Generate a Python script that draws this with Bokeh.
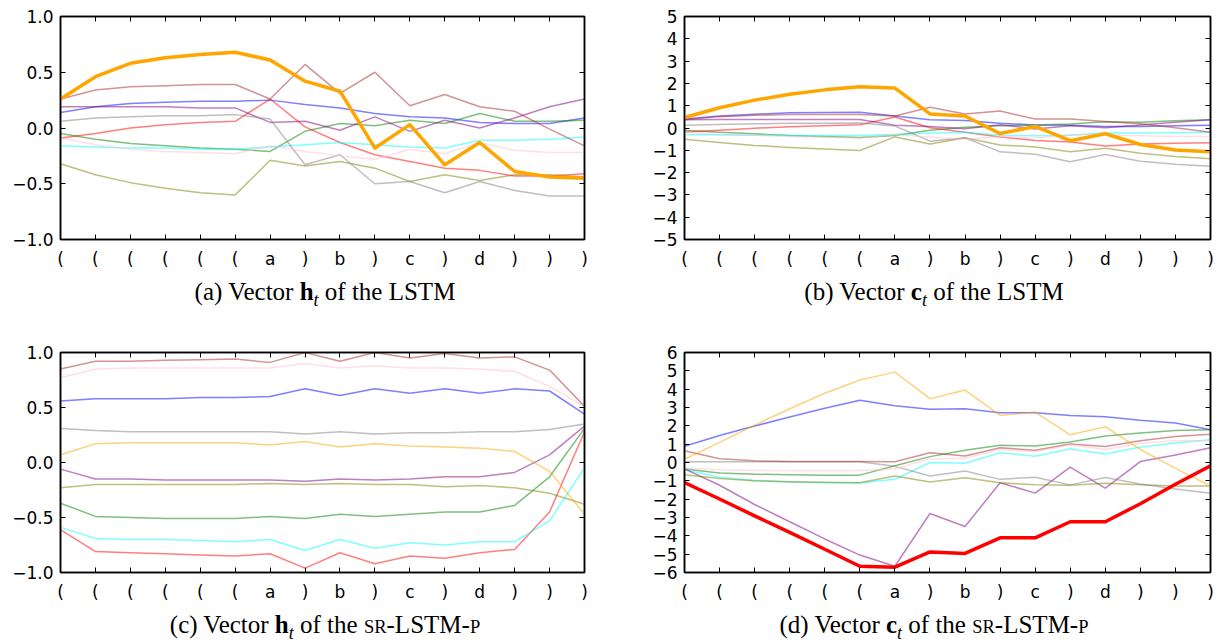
from bokeh.plotting import figure
from bokeh.models import FixedTicker, LinearAxis, Range1d, Div, CustomLabelingPolicy
from bokeh.layouts import column, row
from bokeh.embed import file_html
from bokeh.resources import INLINE

# ---------------- data ----------------
tokens = ["(", "(", "(", "(", "(", "(", "a", ")", "b", ")", "c", ")", "d", ")", ")", ")"]

# (a) vector h_t of the LSTM
orange_a = [0.26, 0.46, 0.58, 0.63, 0.66, 0.68, 0.61, 0.42, 0.33, -0.18, 0.03, -0.33, -0.13, -0.39, -0.44, -0.45]
brown_a = [0.26, 0.34, 0.37, 0.38, 0.39, 0.39, 0.26, 0.57, 0.31, 0.50, 0.20, 0.30, 0.19, 0.15, -0.01, -0.16]
blue_a = [0.14, 0.19, 0.22, 0.23, 0.24, 0.24, 0.25, 0.21, 0.18, 0.13, 0.10, 0.09, 0.05, 0.04, 0.04, 0.09]
purple_a = [0.19, 0.19, 0.19, 0.19, 0.18, 0.18, 0.05, 0.06, -0.02, 0.10, -0.03, 0.07, 0.00, 0.09, 0.19, 0.26]
gray_a = [0.06, 0.09, 0.10, 0.11, 0.11, 0.12, 0.08, -0.33, -0.24, -0.50, -0.48, -0.58, -0.48, -0.56, -0.61, -0.61]
red_a = [-0.09, -0.05, 0.00, 0.03, 0.05, 0.06, 0.26, 0.01, -0.13, -0.24, -0.30, -0.36, -0.38, -0.43, -0.43, -0.41]
green_a = [-0.05, -0.10, -0.14, -0.16, -0.18, -0.19, -0.21, -0.03, 0.04, 0.02, 0.07, 0.04, 0.13, 0.06, 0.06, 0.07]
cyan_a = [-0.16, -0.17, -0.18, -0.18, -0.19, -0.19, -0.17, -0.15, -0.13, -0.15, -0.17, -0.18, -0.11, -0.11, -0.10, -0.08]
pink_a = [-0.09, -0.15, -0.19, -0.21, -0.22, -0.23, -0.16, -0.21, -0.25, -0.28, -0.19, -0.23, -0.13, -0.20, -0.22, -0.22]
olive_a = [-0.32, -0.42, -0.49, -0.54, -0.58, -0.60, -0.29, -0.34, -0.30, -0.36, -0.48, -0.42, -0.47, -0.42, -0.42, -0.44]

# (b) vector c_t of the LSTM
orange_b = [0.47, 0.91, 1.25, 1.51, 1.71, 1.85, 1.79, 0.63, 0.54, -0.25, 0.07, -0.57, -0.26, -0.74, -0.99, -1.07]
blue_b = [0.40, 0.54, 0.62, 0.68, 0.69, 0.71, 0.54, 0.37, 0.34, 0.21, 0.13, 0.12, 0.07, 0.07, 0.10, 0.12]
brown_b = [0.37, 0.51, 0.57, 0.60, 0.60, 0.60, 0.54, 0.93, 0.63, 0.76, 0.40, 0.40, 0.29, 0.19, 0.01, -0.19]
purple_b = [0.37, 0.38, 0.38, 0.38, 0.38, 0.38, 0.12, 0.07, -0.03, 0.15, -0.04, 0.10, 0.01, 0.13, 0.26, 0.37]
gray_b = [0.12, 0.16, 0.19, 0.21, 0.21, 0.22, 0.09, -0.59, -0.44, -1.07, -1.18, -1.51, -1.19, -1.49, -1.63, -1.71]
red_b = [-0.18, -0.10, -0.01, 0.06, 0.10, 0.15, 0.49, 0.01, -0.19, -0.40, -0.56, -0.63, -0.81, -0.72, -0.68, -0.66]
green_b = [-0.10, -0.19, -0.26, -0.34, -0.38, -0.43, -0.34, -0.10, 0.03, 0.10, 0.13, 0.18, 0.28, 0.26, 0.32, 0.37]
cyan_b = [-0.29, -0.31, -0.32, -0.34, -0.34, -0.34, -0.29, -0.22, -0.19, -0.32, -0.35, -0.32, -0.21, -0.22, -0.21, -0.19]
pink_b = [-0.20, -0.28, -0.33, -0.38, -0.42, -0.45, -0.30, -0.40, -0.50, -0.38, -0.45, -0.30, -0.30, -0.35, -0.38, -0.38]
olive_b = [-0.50, -0.65, -0.78, -0.87, -0.94, -1.01, -0.40, -0.72, -0.44, -0.76, -0.85, -1.06, -0.91, -1.13, -1.28, -1.38]

# (c) vector h_t of the SR-LSTM-P
brown_c = [0.85, 0.92, 0.92, 0.93, 0.935, 0.94, 0.91, 1.0, 0.92, 1.0, 0.95, 0.99, 0.95, 0.96, 0.84, 0.51]
pink_c = [0.77, 0.85, 0.86, 0.86, 0.86, 0.86, 0.86, 0.90, 0.86, 0.88, 0.86, 0.86, 0.85, 0.83, 0.69, 0.51]
blue_c = [0.56, 0.58, 0.58, 0.58, 0.59, 0.59, 0.60, 0.67, 0.61, 0.67, 0.63, 0.67, 0.63, 0.67, 0.65, 0.44]
gray_c = [0.31, 0.29, 0.28, 0.28, 0.28, 0.28, 0.28, 0.26, 0.28, 0.26, 0.27, 0.27, 0.28, 0.28, 0.30, 0.35]
orange_c = [0.07, 0.17, 0.18, 0.18, 0.18, 0.18, 0.16, 0.19, 0.14, 0.17, 0.15, 0.14, 0.13, 0.10, -0.08, -0.47]
purple_c = [-0.06, -0.15, -0.15, -0.16, -0.16, -0.16, -0.16, -0.17, -0.15, -0.16, -0.15, -0.13, -0.13, -0.09, 0.07, 0.33]
olive_c = [-0.23, -0.20, -0.20, -0.20, -0.20, -0.20, -0.19, -0.20, -0.19, -0.20, -0.20, -0.22, -0.21, -0.23, -0.28, -0.38]
green_c = [-0.37, -0.49, -0.50, -0.51, -0.51, -0.51, -0.49, -0.51, -0.47, -0.49, -0.47, -0.45, -0.45, -0.39, -0.13, 0.31]
cyan_c = [-0.59, -0.69, -0.70, -0.70, -0.71, -0.72, -0.70, -0.80, -0.70, -0.78, -0.73, -0.75, -0.72, -0.72, -0.53, -0.05]
red_c = [-0.61, -0.81, -0.82, -0.83, -0.84, -0.85, -0.83, -0.96, -0.82, -0.92, -0.85, -0.87, -0.82, -0.79, -0.45, 0.28]

# (d) vector c_t of the SR-LSTM-P
orange_d = [0.18, 1.10, 2.04, 2.93, 3.78, 4.50, 4.93, 3.48, 3.95, 2.57, 2.75, 1.51, 1.95, 0.71, -0.32, -1.28]
blue_d = [0.89, 1.47, 1.99, 2.48, 2.96, 3.40, 3.10, 2.91, 2.93, 2.71, 2.71, 2.57, 2.50, 2.30, 2.15, 1.79]
green_d = [-0.35, -0.57, -0.64, -0.67, -0.69, -0.69, -0.18, 0.32, 0.67, 0.94, 0.90, 1.12, 1.44, 1.61, 1.74, 1.79]
brown_d = [0.64, 0.21, 0.09, 0.05, 0.05, 0.05, 0.04, 0.53, 0.35, 0.80, 0.67, 1.01, 0.87, 1.19, 1.42, 1.54]
pink_d = [-0.30, -0.40, -0.43, -0.43, -0.43, -0.43, -0.35, 0.20, 0.23, 0.71, 0.58, 0.97, 0.71, 1.05, 1.18, 1.18]
cyan_d = [-0.39, -0.80, -0.98, -1.06, -1.10, -1.12, -0.92, 0.00, -0.04, 0.53, 0.34, 0.74, 0.46, 0.85, 1.06, 1.24]
gray_d = [0.04, 0.04, 0.04, 0.04, 0.04, 0.04, -0.21, -0.74, -0.46, -0.92, -0.80, -1.22, -0.82, -1.17, -1.45, -1.68]
olive_d = [-0.67, -0.87, -0.99, -1.05, -1.08, -1.10, -0.74, -1.06, -0.83, -1.10, -1.22, -1.24, -1.13, -1.21, -1.28, -1.28]
purple_d = [-0.35, -1.24, -2.29, -3.23, -4.17, -5.05, -5.66, -2.78, -3.49, -1.10, -1.67, -0.25, -1.40, 0.05, 0.41, 0.80]
red_d = [-1.10, -1.99, -2.91, -3.81, -4.73, -5.66, -5.71, -4.88, -4.96, -4.11, -4.11, -3.23, -3.23, -2.25, -1.19, -0.18]

yticks_h = [-1.0, -0.5, 0.0, 0.5, 1.0]
yticks_c_lstm = [-5, -4, -3, -2, -1, 0, 1, 2, 3, 4, 5]
yticks_c_sr = [-6, -5, -4, -3, -2, -1, 0, 1, 2, 3, 4, 5, 6]

SC = "<span style='font-size:74%'>"
SUB_T = "<sub style='line-height:0;font-size:72%'><i>t</i></sub>"
caption_a = "(a) Vector <b>h</b>" + SUB_T + " of the LSTM"
caption_b = "(b) Vector <b>c</b>" + SUB_T + " of the LSTM"
caption_c = "(c) Vector <b>h</b>" + SUB_T + " of the " + SC + "SR</span>-LSTM-" + SC + "P</span>"
caption_d = "(d) Vector <b>c</b>" + SUB_T + " of the " + SC + "SR</span>-LSTM-" + SC + "P</span>"

# ---------------- helpers ----------------
x_idx = list(range(len(tokens)))
THIN, THICK = 1.5, 3.5
NO_LABELS = "for (const i of Array.from(indices)) indices.unset(i); return indices"


def fmt_num(v, decimals):
    s = f"{abs(v):.{decimals}f}"
    return ("\u2212" + s) if v < 0 else s


def style_axis(ax, ticks, overrides, labels, standoff):
    ax.ticker = FixedTicker(ticks=ticks)
    ax.major_tick_in = 5
    ax.major_tick_out = 0
    ax.major_tick_line_color = "black"
    ax.major_tick_line_width = 1
    ax.minor_tick_line_color = None
    ax.axis_line_color = "black"
    ax.axis_line_width = 1.5
    if labels:
        ax.major_label_overrides = overrides
        ax.major_label_text_font = "DejaVu Sans"
        ax.major_label_text_font_size = "17px"
        ax.major_label_text_color = "black"
        ax.major_label_standoff = standoff
    else:
        ax.major_label_policy = CustomLabelingPolicy(code=NO_LABELS)
        ax.major_label_text_font_size = "1px"
        ax.major_label_standoff = 0


def make_panel(series, ylo, yhi, yticks, decimals, width, height, mbl, mbr, mbt, mbb):
    p = figure(width=width, height=height, x_range=Range1d(0, len(tokens) - 1),
               y_range=Range1d(ylo, yhi), output_backend="svg", toolbar_location=None,
               tools="", min_border_left=mbl, min_border_right=mbr,
               min_border_top=mbt, min_border_bottom=mbb)
    p.grid.visible = False
    p.outline_line_color = "black"
    p.outline_line_width = 1.5
    p.outline_line_alpha = 1
    xover = {i: t for i, t in enumerate(tokens)}
    yover = {v: fmt_num(v, decimals) for v in yticks}
    style_axis(p.xaxis[0], x_idx, xover, True, 9)
    style_axis(p.yaxis[0], yticks, yover, True, 7)
    top = LinearAxis()
    style_axis(top, x_idx, {}, False, 0)
    p.add_layout(top, "above")
    right = LinearAxis()
    style_axis(right, yticks, {}, False, 0)
    p.add_layout(right, "right")
    thin = [s for s in series if not s[2]]
    thick = [s for s in series if s[2]]
    for color, vals, hl in thin + thick:
        p.line(x_idx, vals, line_color=color, line_alpha=1.0 if hl else 0.5,
               line_width=THICK if hl else THIN, line_join="round")
    return p


def make_caption(txt, height, pad, mleft):
    html = ("<div style=\"width:560px;font-family:'Liberation Serif','Times New Roman',serif;font-size:25px;"
            "line-height:1.05;text-align:center;white-space:nowrap;color:black;padding-top:%dpx\">%s</div>"
            % (pad, txt))
    return Div(text=html, width=560, height=height, margin=(0, 0, 0, mleft),
               styles={"text-align": "center"})


series_a = [("blue", blue_a, False), ("green", green_a, False), ("red", red_a, False),
            ("cyan", cyan_a, False), ("purple", purple_a, False), ("olive", olive_a, False),
            ("gray", gray_a, False), ("brown", brown_a, False), ("pink", pink_a, False),
            ("orange", orange_a, True)]
series_b = [("blue", blue_b, False), ("green", green_b, False), ("red", red_b, False),
            ("cyan", cyan_b, False), ("purple", purple_b, False), ("olive", olive_b, False),
            ("gray", gray_b, False), ("brown", brown_b, False), ("pink", pink_b, False),
            ("orange", orange_b, True)]
series_c = [("blue", blue_c, False), ("green", green_c, False), ("red", red_c, False),
            ("cyan", cyan_c, False), ("purple", purple_c, False), ("olive", olive_c, False),
            ("gray", gray_c, False), ("brown", brown_c, False), ("pink", pink_c, False),
            ("orange", orange_c, False)]
series_d = [("blue", blue_d, False), ("green", green_d, False), ("red", red_d, True),
            ("cyan", cyan_d, False), ("purple", purple_d, False), ("olive", olive_d, False),
            ("gray", gray_d, False), ("brown", brown_d, False), ("pink", pink_d, False),
            ("orange", orange_d, False)]

# left column: frame x 60..584 ; right column: frame x 684..1210
pa = make_panel(series_a, -1, 1, yticks_h, 1, 620, 271, 60, 36, 16, 30)
pb = make_panel(series_b, -5, 5, yticks_c_lstm, 0, 596, 271, 64, 6, 16, 30)
pc = make_panel(series_c, -1, 1, yticks_h, 1, 620, 260, 60, 36, 8, 27)
pd = make_panel(series_d, -6, 6, yticks_c_sr, 0, 596, 260, 64, 6, 8, 27)

ca = make_caption(caption_a, 73, 8, 45)
cb = make_caption(caption_b, 73, 8, 34)
cc = make_caption(caption_c, 37, 8, 45)
cd = make_caption(caption_d, 37, 8, 34)

layout = column(row(column(pa, ca), column(pb, cb)),
                row(column(pc, cc), column(pd, cd)))

open("out.html", "w").write(file_html(layout, INLINE))
